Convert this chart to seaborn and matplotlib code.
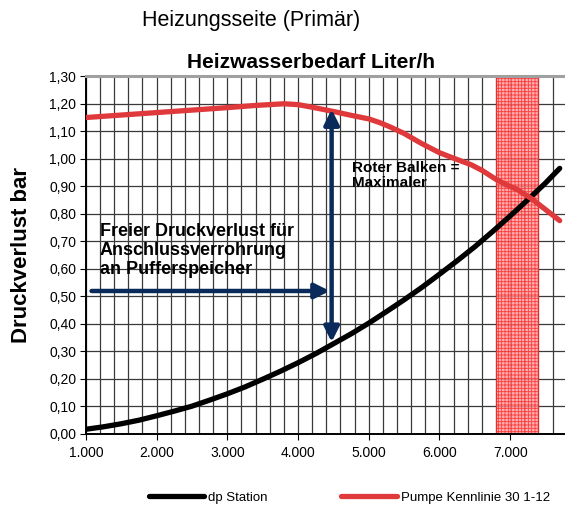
import matplotlib
matplotlib.use("Agg")
import matplotlib.pyplot as plt
import matplotlib.ticker as mticker
from matplotlib.lines import Line2D
import seaborn as sns
import pandas as pd

# Data
dp_flow = [1000, 1250, 1500, 1750, 2000, 2250, 2500, 2750, 3000, 3250, 3500, 3750, 4000, 4250,
           4500, 4750, 5000, 5250, 5500, 5750, 6000, 6250, 6500, 6750, 7000, 7250, 7500, 7700]
dp_station = [0.016, 0.025, 0.036, 0.049, 0.065, 0.082, 0.100, 0.122, 0.145, 0.170, 0.198, 0.227,
              0.258, 0.291, 0.327, 0.363, 0.402, 0.444, 0.487, 0.532, 0.580, 0.629, 0.680, 0.735,
              0.792, 0.851, 0.912, 0.965]

pump_flow = [1000, 1500, 2000, 2500, 3000, 3400, 3800, 4000, 4250, 4500, 4750, 5000, 5150, 5300,
             5500, 5750, 6000, 6200, 6450, 6600, 6800, 6950, 7100, 7300, 7500, 7700]
pump_curve = [1.150, 1.159, 1.168, 1.177, 1.186, 1.194, 1.200, 1.197, 1.185, 1.172, 1.158, 1.145,
              1.132, 1.116, 1.092, 1.055, 1.022, 1.002, 0.978, 0.958, 0.925, 0.905, 0.888, 0.855,
              0.815, 0.775]

band_range = [6800, 7400]
arrow_h = [1080, 4450, 0.519]       # x start, x end, y
arrow_v = [4475, 1.18, 0.333]       # x, y top, y bottom

series_names = ["dp Station", "Pumpe Kennlinie 30 1-12"]
series_colors = ["#000000", "#e0393c"]

df = pd.concat([
    pd.DataFrame({"flow": dp_flow, "dp": dp_station, "serie": series_names[0]}),
    pd.DataFrame({"flow": pump_flow, "dp": pump_curve, "serie": series_names[1]}),
])

sns.set_style("white")
plt.rcParams["font.family"] = ["Liberation Sans", "DejaVu Sans"]
plt.rcParams["hatch.linewidth"] = 0.6
for k in ["text.color", "axes.labelcolor", "xtick.color", "ytick.color"]:
    plt.rcParams[k] = "black"

fig = plt.figure(figsize=(5.65, 5.12), dpi=100)
ax = fig.add_axes([0.152, 0.153, 0.848, 0.698])

ax.set_xlim(1000, 7775)
ax.set_ylim(0, 1.30)

# grid
ax.xaxis.set_major_locator(mticker.MultipleLocator(1000))
ax.xaxis.set_minor_locator(mticker.MultipleLocator(200))
ax.yaxis.set_major_locator(mticker.MultipleLocator(0.1))
ax.grid(which="both", axis="x", color="#3a3a3a", linewidth=0.9)
ax.grid(which="major", axis="y", color="#3a3a3a", linewidth=0.9)
ax.set_axisbelow(True)

# red band
ax.axvspan(band_range[0], band_range[1], facecolor="#ff9c9c", edgecolor="#ff2020",
           hatch="+++++", linewidth=0.8, alpha=0.8, zorder=1.5)

sns.lineplot(data=df, x="flow", y="dp", hue="serie", palette=series_colors,
             linewidth=3.8, ax=ax, legend=False, zorder=3, estimator=None, sort=True)

navy = "#0b2a5c"
ax.annotate("", xy=(arrow_h[1], arrow_h[2]), xytext=(arrow_h[0], arrow_h[2]),
            arrowprops=dict(arrowstyle="-|>,head_length=0.9,head_width=0.45", color=navy, lw=3.2,
                            shrinkA=0, shrinkB=0), zorder=4)
ax.annotate("", xy=(arrow_v[0], arrow_v[1]), xytext=(arrow_v[0], arrow_v[2]),
            arrowprops=dict(arrowstyle="<|-|>,head_length=0.9,head_width=0.45", color=navy, lw=3.2,
                            shrinkA=0, shrinkB=0), zorder=4)

ax.text(1195, 0.665, "Freier Druckverlust für\nAnschlussverrohrung\nan Pufferspeicher",
        fontsize=13, fontweight="bold", va="center", ha="left", linespacing=1.15, zorder=5)
ax.text(4760, 0.938, "Roter Balken =\nMaximaler", fontsize=11, fontweight="bold",
        va="center", ha="left", linespacing=1.1, zorder=5)

def fmt_x(v, pos):
    return f"{int(round(v)):,}".replace(",", ".")

def fmt_y(v, pos):
    return f"{v:.2f}".replace(".", ",")

ax.xaxis.set_major_formatter(mticker.FuncFormatter(fmt_x))
ax.yaxis.set_major_formatter(mticker.FuncFormatter(fmt_y))
ax.tick_params(axis="both", which="major", labelsize=10, length=4, direction="out",
               color="black", width=0.8, bottom=True, left=True)
ax.tick_params(axis="x", which="minor", length=0, bottom=False)
ax.tick_params(axis="x", pad=5)
ax.tick_params(axis="y", pad=3)

for s in ["left", "bottom"]:
    ax.spines[s].set_color("black")
    ax.spines[s].set_linewidth(1.4)
ax.spines["top"].set_color("#a0a0a0")
ax.spines["top"].set_linewidth(2.2)
ax.spines["right"].set_visible(False)

ax.set_xlabel("")
ax.set_ylabel("Druckverlust bar", fontsize=16, fontweight="bold", labelpad=12)
ax.text(0.47, 1.012, "Heizwasserbedarf Liter/h", transform=ax.transAxes, fontsize=15,
        fontweight="bold", ha="center", va="bottom")

fig.text(0.444, 0.960, "Heizungsseite (Primär)", fontsize=15.5, ha="center", va="center")

handles = [Line2D([0], [0], color=series_colors[0], lw=3.8),
           Line2D([0], [0], color=series_colors[1], lw=3.8)]
fig.legend(handles, series_names, loc="center", bbox_to_anchor=(0.618, 0.028), ncol=2,
           frameon=False, fontsize=9.5, handlelength=4.2, handletextpad=0.3, columnspacing=5.6)

fig.savefig("out.png", dpi=100)
